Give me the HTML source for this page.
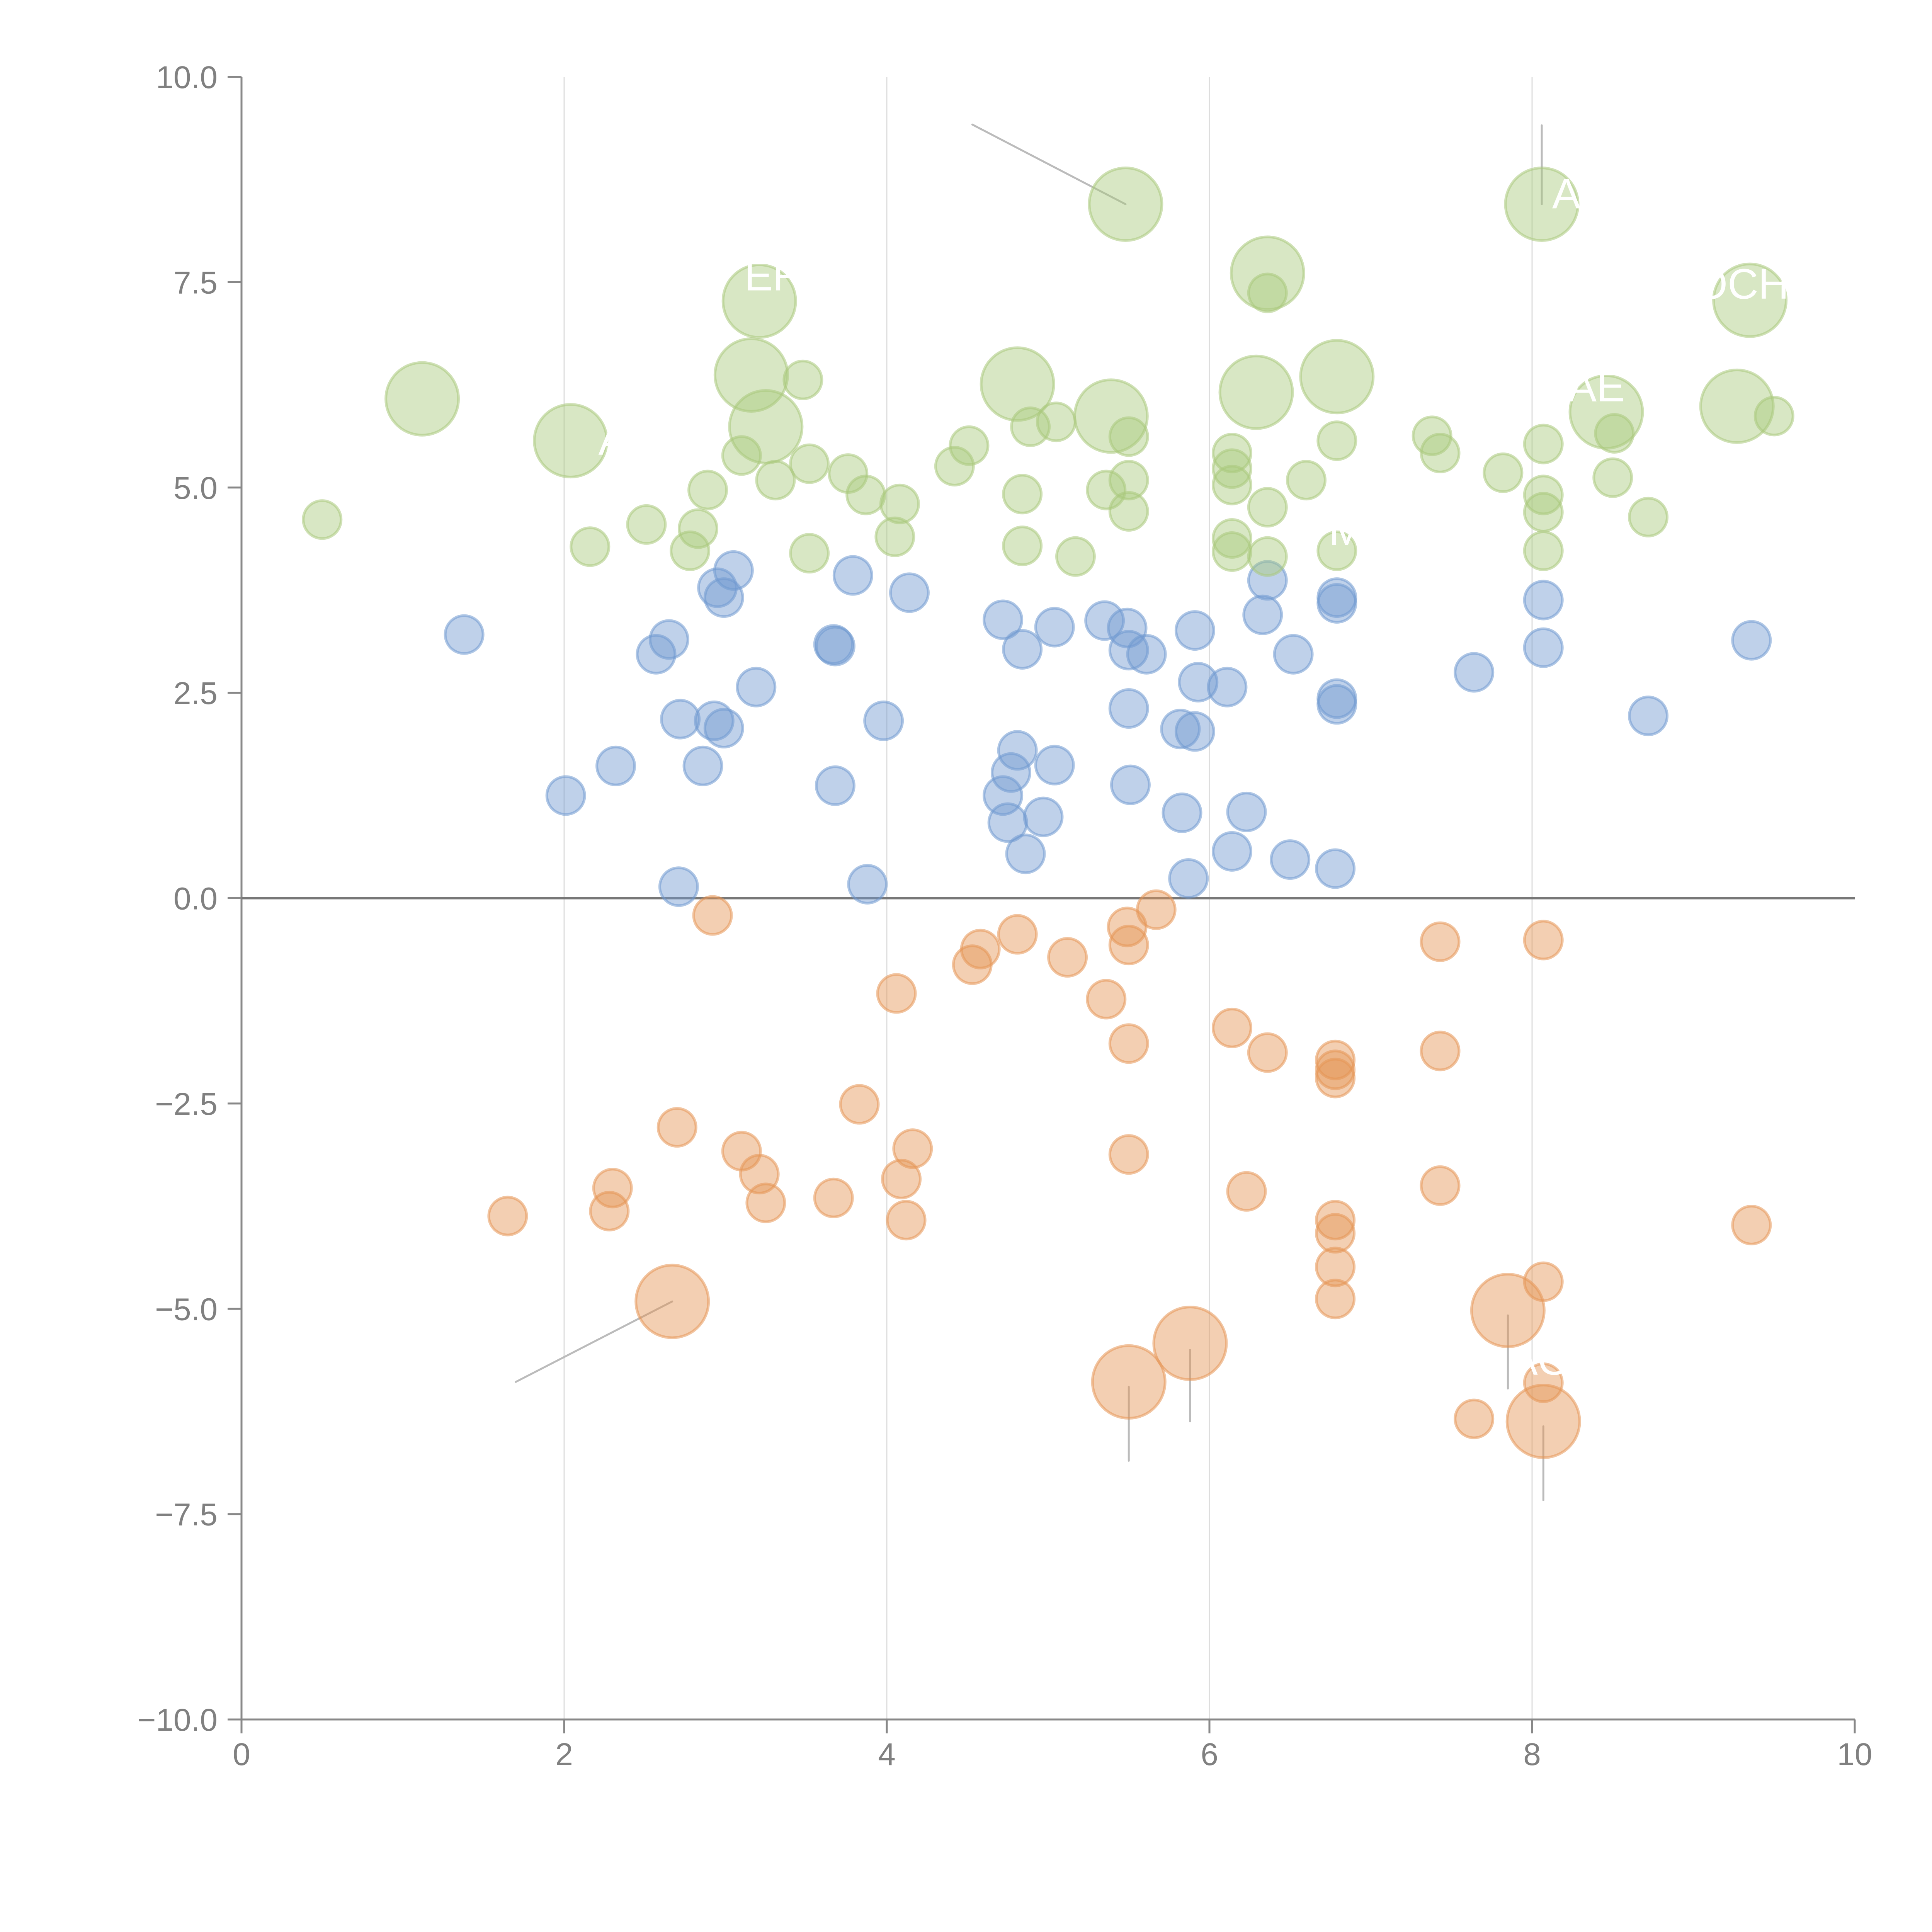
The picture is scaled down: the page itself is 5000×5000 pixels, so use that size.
<!DOCTYPE html>
<html><head><meta charset="utf-8"><style>html,body{margin:0;padding:0;background:#fff}svg{display:block}</style></head>
<body>
<svg id="chart" width="5000" height="5000" viewBox="0 0 5000 5000" xmlns="http://www.w3.org/2000/svg" font-family="'Liberation Sans', sans-serif">
<g id="grid"></g>
<g id="axes"></g>
<g id="leaders"></g>
<g id="marks"></g>
<g id="labels"></g>
</svg>
<script>
const xTicks = [0, 2, 4, 6, 8, 10];
const yTicks = [-10, -7.5, -5, -2.5, 0, 2.5, 5, 7.5, 10];
const yTickLabels = ["−10.0","−7.5","−5.0","−2.5","0.0","2.5","5.0","7.5","10.0"];

const greenBigX = [1.12,2.04,3.21,3.16,3.25,4.81,5.48,5.39,6.36,6.29,6.79,8.06,8.46,9.35,9.27];
const greenBigY = [6.08,5.57,7.27,6.37,5.74,6.26,8.45,5.87,7.61,6.16,6.35,8.45,5.92,7.28,5.99];
const greenX = [0.50,2.16,2.51,2.78,2.83,2.89,3.10,3.31,3.48,3.52,3.52,3.76,3.87,4.08,4.05,4.42,4.51,4.84,4.89,4.84,5.05,5.17,5.36,5.50,5.50,5.50,6.14,6.14,6.14,6.14,6.14,6.36,6.36,6.36,6.60,6.79,6.79,7.38,7.43,7.82,8.07,8.07,8.07,8.07,8.51,8.50,8.72,9.50];
const greenY = [4.61,4.28,4.55,4.23,4.50,4.97,5.39,5.09,6.31,5.29,4.20,5.17,4.91,4.80,4.40,5.26,5.51,4.92,5.74,4.29,5.80,4.16,4.97,5.62,5.09,4.71,5.42,5.23,5.03,4.38,4.22,7.37,4.76,4.16,5.09,5.57,4.23,5.63,5.42,5.18,5.53,4.91,4.70,4.23,5.66,5.12,4.64,5.87];
const blueX = [1.38,2.01,2.32,2.57,2.65,2.71,2.72,2.86,2.93,2.95,2.99,2.99,3.05,3.19,3.67,3.68,3.68,3.79,3.88,3.98,4.14,4.72,4.72,4.75,4.77,4.81,4.84,4.86,4.97,5.04,5.04,5.35,5.49,5.50,5.50,5.51,5.61,5.82,5.83,5.87,5.91,5.93,5.91,6.11,6.14,6.23,6.33,6.36,6.52,6.50,6.79,6.79,6.79,6.79,6.78,7.64,8.07,8.07,8.72,9.36];
const blueY = [3.21,1.25,1.61,2.97,3.15,0.14,2.18,1.61,2.16,3.78,2.07,3.66,3.99,2.57,3.09,3.07,1.37,3.93,0.17,2.16,3.72,3.39,1.25,0.92,1.53,1.80,3.03,0.54,0.99,3.30,1.62,3.38,3.29,3.02,2.31,1.38,2.97,2.06,1.04,0.24,3.26,2.63,2.03,2.57,0.57,1.05,3.45,3.87,2.97,0.47,3.66,3.59,2.43,2.36,0.36,2.75,3.63,3.05,2.22,3.14];
const orangeX = [1.65,2.28,2.30,2.70,2.92,3.10,3.21,3.25,3.67,3.83,4.06,4.09,4.12,4.16,4.53,4.58,4.81,5.12,5.36,5.49,5.50,5.50,5.50,5.67,6.14,6.23,6.36,6.78,6.78,6.78,6.78,6.78,6.78,6.78,7.43,7.43,7.43,7.64,8.07,8.07,8.07,9.36];
const orangeY = [-3.87,-3.81,-3.53,-2.79,-0.21,-3.08,-3.36,-3.71,-3.65,-2.51,-1.16,-3.42,-3.92,-3.05,-0.81,-0.62,-0.44,-0.72,-1.23,-0.35,-0.57,-1.77,-3.12,-0.14,-1.58,-3.57,-1.88,-1.97,-2.09,-2.19,-3.92,-4.08,-4.49,-4.88,-0.53,-1.86,-3.50,-6.34,-0.51,-4.67,-5.90,-3.98];
const orangeBigX = [2.67,5.50,5.88,7.85,8.07];
const orangeBigY = [-4.91,-5.89,-5.42,-5.02,-6.37];

const leaderX1 = [2.67,5.48,8.06,5.50,5.88,7.85,8.07];
const leaderY1 = [-4.91,8.45,8.45,-5.95,-5.50,-5.08,-6.43];
const leaderX2 = [1.70,4.53,8.06,5.50,5.88,7.85,8.07];
const leaderY2 = [-5.89,9.42,9.41,-6.85,-6.37,-5.97,-7.33];

const labelText = ["A","ER","AS","OCH","AE","M","AO"];
const labelX = [2.30,3.30,8.30,9.30,8.40,6.85,8.05];
const labelY = [5.40,7.40,8.40,7.30,6.05,4.30,-5.80];

const X0=625, X1=4800, Y0=4450, Y1=199;
function sx(v){return X0+(v-0)/(10-0)*(X1-X0);}
function sy(v){return Y0-(v+10)/20*(Y0-Y1);}
const NS="http://www.w3.org/2000/svg";
function mk(tag, attrs, parent){const e=document.createElementNS(NS,tag);for(const k in attrs)e.setAttribute(k,attrs[k]);parent.appendChild(e);return e;}

const grid=document.getElementById('grid'), axes=document.getElementById('axes'),
 leaders=document.getElementById('leaders'), marks=document.getElementById('marks'), labels=document.getElementById('labels');

xTicks.forEach(t=>{
  if(t>0 && t<10){
    const g=mk('line',{x1:sx(t),x2:sx(t),y1:Y1,y2:Y0,stroke:'#dddddd','stroke-width':3},grid);
    
    
  }
  const tk=mk('line',{x1:sx(t),x2:sx(t),y1:Y0,y2:Y0+36,stroke:'#888','stroke-width':5},axes);
  
  
  const tl=mk('text',{x:sx(t),y:Y0+118,'text-anchor':'middle','font-size':82,fill:'#808080'},axes);
  tl.textContent=String(t);
  
  
});
yTicks.forEach((t,i)=>{
  const tk=mk('line',{x1:X0-36,x2:X0,y1:sy(t),y2:sy(t),stroke:'#888','stroke-width':5},axes);
  
  
  const tl=mk('text',{x:X0-62,y:sy(t)+29,'text-anchor':'end','font-size':82,fill:'#808080'},axes);
  tl.textContent=yTickLabels[i];
  
  
});
const ya=mk('line',{x1:X0,x2:X0,y1:Y1,y2:Y0,stroke:'#888','stroke-width':5},axes);


const xa=mk('line',{x1:X0,x2:X1,y1:Y0,y2:Y0,stroke:'#888','stroke-width':5},axes);


const zl=mk('line',{x1:X0,x2:X1,y1:sy(0),y2:sy(0),stroke:'#777','stroke-width':6},axes);



leaderX1.forEach((v,i)=>{
  const l=mk('line',{x1:sx(v),y1:sy(leaderY1[i]),x2:sx(leaderX2[i]),y2:sy(leaderY2[i]),stroke:'#bbbbbb','stroke-width':5,'stroke-linecap':'round'},leaders);
  
  
});

function drawSeries(xs, ys, r, fill, stroke, name){
  xs.forEach((v,i)=>{
    const c=mk('circle',{cx:sx(v),cy:sy(ys[i]),r:r,fill:fill,'fill-opacity':0.45,stroke:stroke,'stroke-opacity':0.55,'stroke-width':7},marks);
    
    
  });
}
drawSeries(blueX, blueY, 49, '#7099d0', '#7099d0', 'blue-bubble');
drawSeries(orangeX, orangeY, 49, '#e59555', '#e59555', 'orange-bubble');
drawSeries(orangeBigX, orangeBigY, 94, '#e59555', '#e59555', 'orange-large-bubble');
drawSeries(greenX, greenY, 49, '#a9c97c', '#a9c97c', 'green-bubble');
drawSeries(greenBigX, greenBigY, 94, '#a9c97c', '#a9c97c', 'green-large-bubble');

labelText.forEach((s,i)=>{
  const t=mk('text',{x:sx(labelX[i]),y:sy(labelY[i]),'text-anchor':'middle','font-size':110,fill:'#ffffff'},labels);
  t.textContent=s;
  
  
});
</script>
</body></html>
